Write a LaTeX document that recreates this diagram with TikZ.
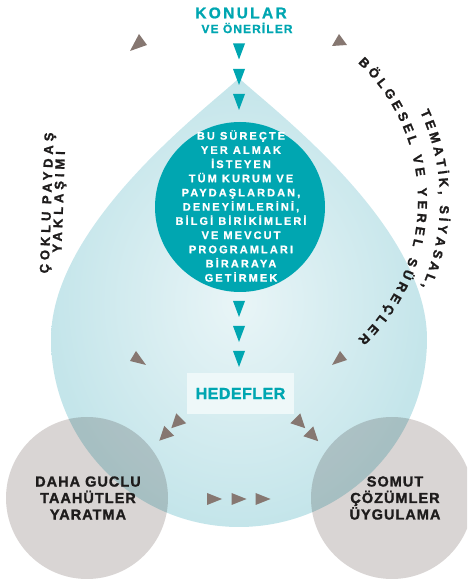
\documentclass[tikz,border=0pt]{standalone}
\usepackage{fontspec}
\setmainfont{Liberation Sans}
\usetikzlibrary{decorations.text}
\definecolor{tealc}{RGB}{0,166,177}
\definecolor{dropout}{RGB}{196,229,234}
\definecolor{dropin}{RGB}{233,245,247}
\definecolor{grayc}{RGB}{217,213,212}
\definecolor{arrowg}{RGB}{134,119,113}
\definecolor{inkc}{RGB}{30,28,28}
\definecolor{boxc}{RGB}{238,248,249}
\newcommand{\arcfnt}{\bfseries\fontsize{13}{13}\selectfont\addfontfeatures{FakeBold=1.5}}
\begin{document}
\begin{tikzpicture}[x=1pt,y=1pt,
  tdown/.pic={\fill[tealc] (-6,8) -- (6,8) -- (0,-8) -- cycle;},
  gah/.pic={\fill[arrowg] (8,0) -- (-6,7) -- (-6,-7) -- cycle;},
  gright/.pic={\fill[arrowg] (7.5,0) -- (-7.5,6) -- (-7.5,-6) -- cycle;},
  bigcirc/.style={circle, fill=grayc, minimum size=162pt, inner sep=0pt},
  circtxt/.style={text=inkc, align=center, inner sep=0pt,
    font=\bfseries\fontsize{14.5}{16.5}\selectfont\addfontfeatures{LetterSpace=7,FakeBold=1.5}},
  sidetxt/.style={rotate=88, text=inkc, inner sep=0pt,
    font=\bfseries\fontsize{13}{13}\selectfont\addfontfeatures{LetterSpace=30,FakeBold=1.5}}
]
\useasboundingbox (0,0) rectangle (467,582);
\clip (0,0) rectangle (467,582);

% drop
\shade[inner color=dropin, outer color=dropout]
  (239,504) .. controls (215,480) and (51,360) .. (51,243)
  arc[start angle=180, end angle=360, radius=188]
  .. controls (427,360) and (263,480) .. (239,504) -- cycle;

% grey circles
\begin{scope}[blend mode=multiply]
\node[bigcirc] (strong) at (87,84) {};
\node[bigcirc] (concrete) at (392,84) {};
\end{scope}
\node[circtxt] (strongtxt) at (88,84) {DAHA GUCLU\\TAAHÜTLER\\YARATMA};
\node[circtxt] (concretetxt) at (395,84) {SOMUT\\ÇÖZÜMLER\\ÜYGULAMA};

% teal circle
\node[circle, fill=tealc, minimum size=170pt, inner sep=0pt] (gather) at (240,375) {};
\node[text=white, align=center, inner sep=0pt,
  font=\bfseries\fontsize{11}{14.2}\selectfont\addfontfeatures{LetterSpace=19,FakeBold=1}]
  (gathertxt) at (241,376) {BU SÜREÇTE\\YER ALMAK\\İSTEYEN\\TÜM KURUM VE\\PAYDAŞLARDAN,\\DENEYİMLERİNİ,\\BİLGİ BİRİKİMLERİ\\VE MEVCUT\\PROGRAMLARI\\BİRARAYA\\GETİRMEK};

% title
\node[text=tealc, inner sep=0pt, font=\bfseries\fontsize{15.5}{15.5}\selectfont\addfontfeatures{LetterSpace=15,FakeBold=1.2}]
  (konular) at (241,569) {KONULAR};
\node[text=tealc, inner sep=0pt, font=\bfseries\fontsize{12}{12}\selectfont\addfontfeatures{LetterSpace=9,FakeBold=1}]
  (oneriler) at (247,554) {VE ÖNERİLER};

% goals box
\node[fill=boxc, minimum width=107pt, minimum height=41pt, inner sep=0pt, text=tealc,
  font=\bfseries\fontsize{16}{16}\selectfont\addfontfeatures{LetterSpace=3,FakeBold=1.5}]
  (hedef) at (240.5,188.5) {HEDEFLER};

% teal arrowheads
\foreach \yy in {530.5,505,480,273,248,223} \pic at (239,\yy) {tdown};

% grey arrowheads
\pic[rotate=225] at (177,159.5) {gah};
\pic[rotate=225] at (165,147) {gah};
\pic[rotate=-45] at (299.5,159.5) {gah};
\pic[rotate=-45] at (312.5,146.5) {gah};
\foreach \xx in {214.5,239,263} \pic at (\xx,83) {gright};

\fill[arrowg] (139,548) -- (130,531) -- (147,537) -- cycle;
\fill[arrowg] (136,231) -- (130,221) -- (146,217) -- cycle;
\fill[arrowg] (339,548) -- (332,536) -- (347,537) -- cycle;
\fill[arrowg] (340,231) -- (332,217) -- (347,222) -- cycle;

% left side text
\node[sidetxt] (cok1) at (48,379) {ÇOKLU PAYDAŞ};
\node[sidetxt] (cok2) at (60,380) {YAKLAŞIMI};

% right side arc text
\path[decorate, decoration={text along path, text align=fit to path, text color=inkc,
  text={|\arcfnt|TEMATİK, SİYASAL,}}]
  (229,381) ++(25:211) arc[start angle=25, end angle=-24, radius=211];
\path[decorate, decoration={text along path, text align=fit to path, text color=inkc,
  text={|\arcfnt|BÖLGESEL VE YEREL SÜREÇLER}}]
  (229,381) ++(47:189) arc[start angle=47, end angle=-47, radius=189];
\end{tikzpicture}
\end{document}
